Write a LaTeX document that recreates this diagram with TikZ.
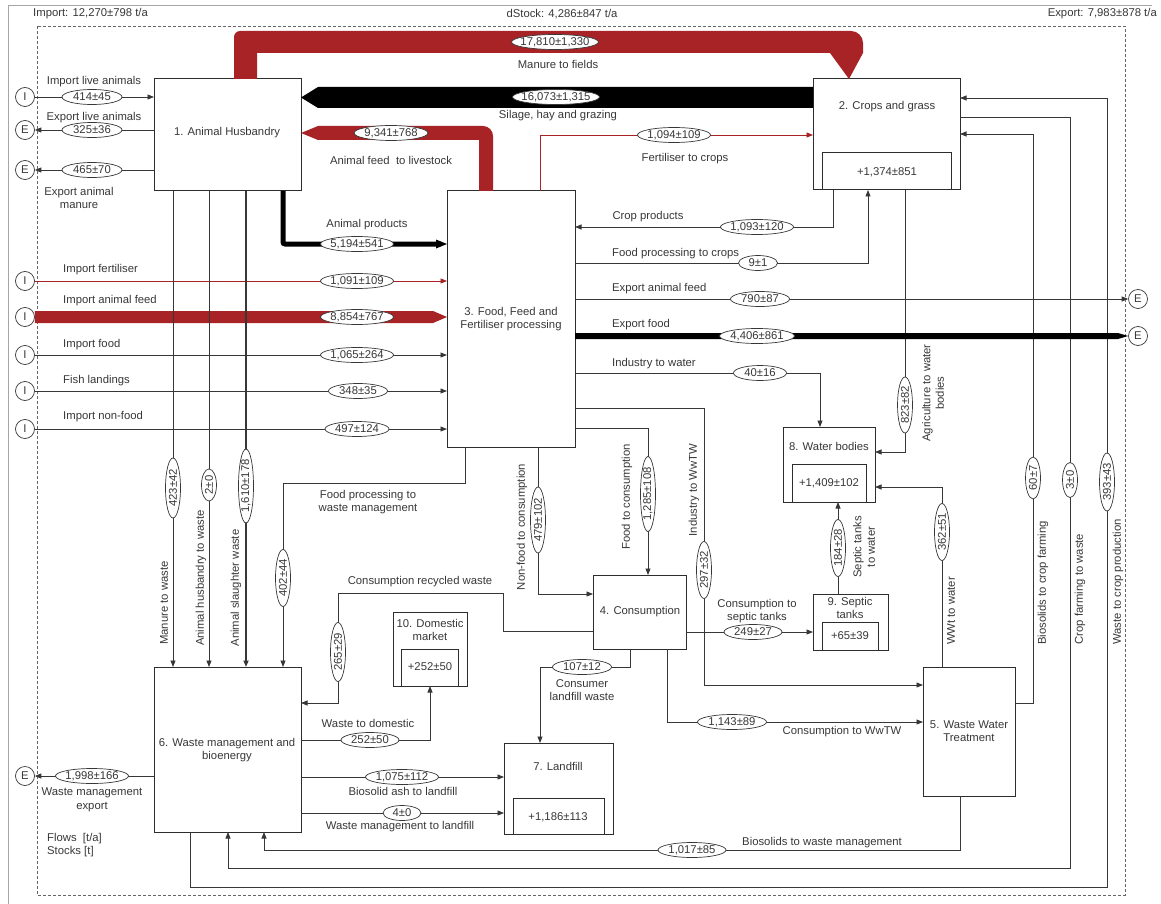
\documentclass[tikz,border=0pt]{standalone}
\usepackage{fontspec}
\setmainfont{Liberation Sans}
\usetikzlibrary{arrows.meta,shapes.geometric}
\definecolor{fred}{RGB}{167,35,38}
\definecolor{ln}{RGB}{55,55,55}
\definecolor{bx}{RGB}{45,45,45}
\begin{document}
\begin{tikzpicture}[x=1pt,y=-1pt,
  font=\fontsize{11.3}{13.5}\selectfont,
  box/.style={draw=bx,line width=1pt,inner sep=0pt,outer sep=0pt},
  flow/.style={draw=ln,line width=0.8pt},
  thk/.style={draw=ln,line width=1.8pt},
  ar/.style={-{Triangle[length=6.5pt,width=5pt]}},
  val/.style={ellipse,draw=ln,line width=0.7pt,fill=white,inner xsep=-20pt,inner ysep=-5pt,minimum height=15pt,minimum width=#1,text=ln},
  lab/.style={inner sep=0pt,align=center,text=ln},
  port/.style={circle,draw=ln,line width=0.7pt,fill=white,minimum size=19pt,inner sep=0pt,text=ln}]
\useasboundingbox (0,0) rectangle (1161,904);

% frame
\draw[gray!70,line width=0.8pt] (8,904) -- (8,5) -- (1152,5);
\draw[gray!80!black,line width=0.8pt,dash pattern=on 3pt off 2pt] (37,26) rectangle (1125,895);
\node[lab,anchor=west] (tImp) at (33,14) {Import: 12,270±798 t/a};
\node[lab] (tDs) at (562,14) {dStock: 4,286±847 t/a};
\node[lab,anchor=east] (tExp) at (1157,14) {Export: 7,983±878 t/a};

% boxes
\node[box,minimum width=147pt,minimum height=112pt] (n1) at (227.5,135) {};
\node[box,minimum width=147pt,minimum height=111pt] (n2) at (886.5,134.5) {};
\node[box,minimum width=129pt,minimum height=37pt] (n2s) at (887,171.5) {};
\node[box,minimum width=128pt,minimum height=256pt] (n3) at (511,319) {};
\node[box,minimum width=93pt,minimum height=74pt] (n4) at (639.5,612) {};
\node[box,minimum width=92pt,minimum height=129pt] (n5) at (969,731.5) {};
\node[box,minimum width=147pt,minimum height=165pt] (n6) at (227.5,749.5) {};
\node[box,minimum width=109pt,minimum height=91pt] (n7) at (558.5,788.5) {};
\node[box,minimum width=91pt,minimum height=36pt] (n7s) at (558.5,816) {};
\node[box,minimum width=92pt,minimum height=75pt] (n8) at (829,464.5) {};
\node[box,minimum width=74pt,minimum height=38pt] (n8s) at (829,483) {};
\node[box,minimum width=75pt,minimum height=56pt] (n9) at (850.5,622) {};
\node[box,minimum width=56pt,minimum height=28pt] (n9s) at (850,636) {};
\node[box,minimum width=74pt,minimum height=74pt] (n10) at (430,649) {};
\node[box,minimum width=57pt,minimum height=37pt] (n10s) at (429.5,667.5) {};

% ports
\node[port] (iLA) at (25,97) {I};
\node[port] (eLA) at (25,130) {E};
\node[port] (eAM) at (25,170) {E};
\node[port] (iF) at (25,281) {I};
\node[port] (iAF) at (25,317) {I};
\node[port] (iFo) at (25,355) {I};
\node[port] (iFi) at (25,391) {I};
\node[port] (iNF) at (25,429) {I};
\node[port] (eWM) at (25,776) {E};
\node[port] (eAF) at (1138,299) {E};
\node[port] (eFo) at (1138,336) {E};

% wide bands
\fill[fred] (iAF.east |- 0,311) -- (433,311) -- (n3.west |- 0,317) -- (433,323) -- (iAF.east |- 0,323) -- cycle;
\fill[black] (n2.west |- 0,87) -- (318,87) -- (n1.east |- 0,97.5) -- (318,108) -- (n2.west |- 0,108) -- cycle;
\fill[fred] (n1.north -| 234,0) -- (234,37) arc[start angle=180,end angle=270,radius=6] -- (851,31) arc[start angle=-90,end angle=0,radius=12] -- (863,53) -- (n2.north -| 849,0) -- (830,53) -- (257,53) -- (n1.north -| 257,0) -- cycle;
\fill[fred] (n3.north -| 479,0) -- (479,140) -- (318,140) -- (n1.east |- 0,133) -- (318,126) -- (483,126) arc[start angle=-90,end angle=0,radius=10] -- (n3.north -| 493,0) -- cycle;

% thin connectors
\draw[flow,ar] (iLA) -- (n1.west |- iLA);
\draw[flow,ar] (n1.west |- eLA) -- (eLA);
\draw[flow,ar] (n1.west |- eAM) -- (eAM);
\draw[draw=fred,line width=0.8pt,ar] (iF) -- (n3.west |- iF);
\draw[flow,ar] (iFo) -- (n3.west |- iFo);
\draw[flow,ar] (iFi) -- (n3.west |- iFi);
\draw[flow,ar] (iNF) -- (n3.west |- iNF);
\draw[draw=fred,line width=0.8pt,ar] (n3.north -| 540,0) |- (n2.west |- 0,135);

\draw[flow,ar] (n1.south -| 173,0) -- (n6.north -| 173,0);
\draw[flow,ar] (n1.south -| 209,0) -- (n6.north -| 209,0);
\draw[thk,ar] (n1.south -| 246,0) -- (n6.north -| 246,0);
\draw[flow,ar] (n3.south -| 465,0) |- (283,483) -- (n6.north -| 283,0);

\draw[flow,ar] (n2.south -| 833,0) |- (n3.east |- 0,227);
\draw[flow,ar] (n3.east |- 0,263) -| (n2.south -| 868,0);
\draw[flow,ar] (n3.east |- eAF) -- (eAF);
\draw[flow,ar] (n3.east |- 0,373) -| (n8.north -| 820,0);
\draw[flow,ar] (n2.south -| 905,0) |- (n8.east |- 0,452);
\draw[flow,ar] (n3.east |- 0,408) -| (704,685) -- (n5.west |- 0,685);
\draw[flow,ar] (n3.east |- 0,428) -| (n4.north -| 648,0);
\draw[flow,ar] (n3.south -| 538,0) |- (n4.west |- 0,594);
\draw[flow,ar] (n4.west |- 0,631) -| (503,593) -| (338,703) -- (n6.east |- 0,703);
\draw[flow,ar] (n6.east |- 0,740) -| (n10.south -| 430,0);
\draw[flow,ar] (n6.east |- 0,777) -- (n7.west |- 0,777);
\draw[flow,ar] (n6.east |- 0,813) -- (n7.west |- 0,813);
\draw[flow,ar] (n6.west |- eWM) -- (eWM);
\draw[flow,ar] (n4.south -| 630,0) |- (540,667) -- (n7.north -| 540,0);
\draw[flow,ar] (n4.south -| 667,0) |- (n5.west |- 0,722);
\draw[flow,ar] (n4.east |- 0,632) -- (n9.west |- 0,632);
\draw[flow,ar] (n9.north -| 838,0) -- (n8.south -| 838,0);
\draw[flow,ar] (n5.north -| 942,0) |- (n8.east |- 0,487);
\draw[flow,ar] (n5.east |- 0,703) -| (1033,134) -- (n2.east |- 0,134);
\draw[flow,ar] (n2.east |- 0,117) -| (1070,868) -| (n6.south -| 228,0);
\draw[flow,ar] (n6.south -| 190,0) |- (1107,887) |- (n2.east |- 0,98);
\draw[flow,ar] (n5.south -| 960,0) |- (264,850) -- (n6.south -| 264,0);

% thick black flows
\draw[black,line width=5pt,rounded corners=2pt] (n1.south -| 283,0) -- (283,244) -- (437,244);
\fill[black] (436,239.5) -- (n3.west |- 0,244) -- (436,248.5) -- cycle;
\fill[black] (n3.east |- 0,333) -- (1118,333) -- (eFo.west) -- (1118,339) -- (n3.east |- 0,339) -- cycle;

% values
\node[val=60pt] (v01) at (92,97) {414±45};
\node[val=60pt] (v02) at (92,130) {325±36};
\node[val=60pt] (v03) at (92,170) {465±70};
\node[val=87pt] (v04) at (555,42) {17,810±1,330};
\node[val=87pt] (v05) at (556,97) {16,073±1,315};
\node[val=74pt] (v06) at (391,133) {9,341±768};
\node[val=73pt] (v07) at (674,135) {1,094±109};
\node[val=73pt] (v08) at (357,244) {5,194±541};
\node[val=73pt] (v09) at (357,281) {1,091±109};
\node[val=73pt] (v10) at (357,317) {8,854±767};
\node[val=73pt] (v11) at (357,355) {1,065±264};
\node[val=59pt] (v12) at (358,391) {348±35};
\node[val=64pt] (v13) at (357,429) {497±124};
\node[val=73pt] (v14) at (757,227) {1,093±120};
\node[val=39pt] (v15) at (758,263) {9±1};
\node[val=59pt] (v16) at (760,299) {790±87};
\node[val=75pt] (v17) at (757,336) {4,406±861};
\node[val=53pt] (v18) at (760,373) {40±16};
\node[val=56pt,rotate=90] (v19) at (905,405) {823±82};
\node[val=60pt,rotate=90] (v20) at (173,488) {423±42};
\node[val=32pt,rotate=90] (v21) at (209,485) {2±0};
\node[val=74pt,rotate=90] (v22) at (246,486) {1,610±178};
\node[val=57pt,rotate=90] (v23) at (283,578) {402±44};
\node[val=66pt,rotate=90] (v24) at (538,520) {479±102};
\node[val=75pt,rotate=90] (v25) at (648,494) {1,285±108};
\node[val=57pt,rotate=90] (v26) at (704,570) {297±32};
\node[val=59pt,rotate=90] (v27) at (338,652) {265±29};
\node[val=58pt] (v28) at (753,632) {249±27};
\node[val=57pt,rotate=90] (v29) at (838,548) {184±28};
\node[val=57pt,rotate=90] (v30) at (942,532) {362±51};
\node[val=42pt,rotate=90] (v31) at (1033,478) {60±7};
\node[val=35pt,rotate=90] (v32) at (1070,480) {3±0};
\node[val=58pt,rotate=90] (v33) at (1107,482) {393±43};
\node[val=59pt] (v34) at (582,667) {107±12};
\node[val=69pt] (v35) at (732,722) {1,143±89};
\node[val=58pt] (v36) at (370,740) {252±50};
\node[val=73pt] (v37) at (402,777) {1,075±112};
\node[val=38pt] (v38) at (402,813) {4±0};
\node[val=73pt] (v39) at (92,776) {1,998±166};
\node[val=68pt] (v40) at (692,850) {1,017±85};

% box texts
\node[lab] (t1) at (227,133) {1. Animal Husbandry};
\node[lab] (t2) at (887,107) {2. Crops and grass};
\node[lab] (t2s) at (887,172) {+1,374±851};
\node[lab] (t3) at (511,319) {3. Food, Feed and\\Fertiliser processing};
\node[lab] (t4) at (640,612) {4. Consumption};
\node[lab] (t5) at (969,731) {5. Waste Water\\Treatment};
\node[lab] (t6) at (227,750) {6. Waste management and\\bioenergy};
\node[lab] (t7) at (558,766) {7. Landfill};
\node[lab] (t7s) at (558,817) {+1,186±113};
\node[lab] (t8) at (829,446) {8. Water bodies};
\node[lab] (t8s) at (829,483) {+1,409±102};
\node[lab] (t9) at (850,608) {9. Septic\\tanks};
\node[lab] (t9s) at (850,636) {+65±39};
\node[lab] (t10) at (430,630) {10. Domestic\\market};
\node[lab] (t10s) at (430,667) {+252±50};

% flow labels
\node[lab] (a01) at (94,82) {Import live animals};
\node[lab] (a02) at (94,118) {Export live animals};
\node[lab] (a03) at (79,198) {Export animal\\manure};
\node[lab] (a04) at (558,64) {Manure to fields};
\node[lab] (a05) at (558,116) {Silage, hay and grazing};
\node[lab] (a06) at (391,160) {Animal feed~ to livestock};
\node[lab] (a07) at (685,159) {Fertiliser to crops};
\node[lab] (a08) at (367,225) {Animal products};
\node[lab,anchor=west] (a09) at (63,270) {Import fertiliser};
\node[lab,anchor=west] (a10) at (63,301) {Import animal feed};
\node[lab,anchor=west] (a11) at (63,345) {Import food};
\node[lab,anchor=west] (a12) at (63,381) {Fish landings};
\node[lab,anchor=west] (a13) at (63,417) {Import non-food};
\node[lab] (a14) at (648,217) {Crop products};
\node[lab,anchor=west] (a15) at (612,254) {Food processing to crops};
\node[lab,anchor=west] (a16) at (612,289) {Export animal feed};
\node[lab,anchor=west] (a17) at (612,325) {Export food};
\node[lab,anchor=west] (a18) at (612,364) {Industry to water};
\node[lab,rotate=90] (a19) at (933,393) {Agriculture to water\\bodies};
\node[lab,rotate=90] (a20) at (164,603) {Manure to waste};
\node[lab,rotate=90] (a21) at (201,578) {Animal husbandry to waste};
\node[lab,rotate=90] (a22) at (236,588) {Animal slaughter waste};
\node[lab] (a23) at (368,502) {Food processing to\\waste management};
\node[lab,rotate=90] (a24) at (522,527) {Non-food to consumption};
\node[lab,rotate=90] (a25) at (627,497) {Food to consumption};
\node[lab,rotate=90] (a26) at (694,490) {Industry to WwTW};
\node[lab] (a27) at (420,582) {Consumption recycled waste};
\node[lab] (a28) at (757,611) {Consumption to\\septic tanks};
\node[lab,rotate=90] (a29) at (864,547) {Septic tanks\\to water};
\node[lab,rotate=90] (a30) at (951,611) {WWt to water};
\node[lab,rotate=90] (a31) at (1043,583) {Biosolids to crop farming};
\node[lab,rotate=90] (a32) at (1080,589) {Crop farming to waste};
\node[lab,rotate=90] (a33) at (1118,582) {Waste to crop production};
\node[lab] (a34) at (582,690) {Consumer\\landfill waste};
\node[lab] (a35) at (842,732) {Consumption to WwTW};
\node[lab] (a36) at (368,723) {Waste to domestic};
\node[lab] (a37) at (403,791) {Biosolid ash to landfill};
\node[lab] (a38) at (400,827) {Waste management to landfill};
\node[lab] (a39) at (92,800) {Waste management\\export};
\node[lab,anchor=west,align=left] (a40) at (47,845) {Flows~ [t/a]\\Stocks [t]};
\node[lab] (a41) at (822,843) {Biosolids to waste management};
\end{tikzpicture}
\end{document}
